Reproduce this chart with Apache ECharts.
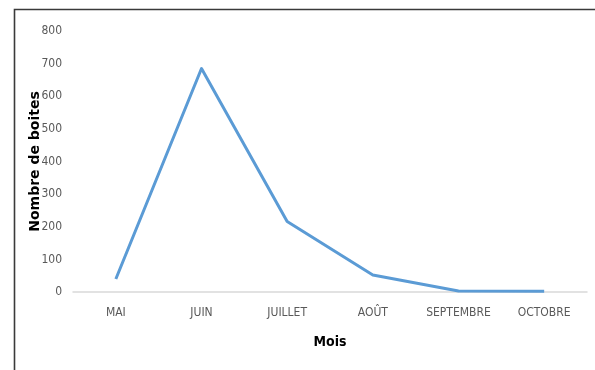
<!DOCTYPE html>
<html>
<head>
<meta charset="utf-8">
<script src="https://cdn.jsdelivr.net/npm/echarts@6/dist/echarts.min.js"></script>
<style>
  html, body { margin: 0; padding: 0; background: #fff; }
  #chart { width: 595px; height: 370px; }
</style>
</head>
<body>
<div id="chart"></div>
<script>
// Monthly box counts
const months = ['MAI', 'JUIN', 'JUILLET', 'AOÛT', 'SEPTEMBRE', 'OCTOBRE'];
const boxes = [40, 685, 216, 52, 3, 2];
const yTicks = { min: 0, max: 800, interval: 100 };

const narrow = "'DejaVu Sans Condensed', 'Liberation Sans Narrow', 'DejaVu Sans', sans-serif";

const chart = echarts.init(document.getElementById('chart'), null, { renderer: 'canvas' });
chart.setOption({
  animation: false,
  backgroundColor: '#ffffff',
  grid: { left: 73, right: 8, top: 31, bottom: 78, containLabel: false },
  graphic: [
    {
      type: 'polyline',
      silent: true,
      shape: { points: [[14.5, 372], [14.5, 9.5], [597, 9.5]] },
      style: { stroke: '#3a3a3a', lineWidth: 1.6, fill: null }
    }
  ],
  xAxis: {
    type: 'category',
    data: months,
    boundaryGap: true,
    axisLine: { show: true, lineStyle: { color: '#d9d9d9', width: 1.5 } },
    axisTick: { show: false },
    axisLabel: { color: '#595959', fontFamily: narrow, fontSize: 12, margin: 15 },
    name: 'Mois',
    nameLocation: 'middle',
    nameGap: 43,
    nameMoveOverlap: false,
    nameTextStyle: { color: '#000', fontFamily: narrow, fontWeight: 'bold', fontSize: 14 }
  },
  yAxis: {
    type: 'value',
    min: yTicks.min,
    max: yTicks.max,
    interval: yTicks.interval,
    axisLine: { show: false },
    axisTick: { show: false },
    splitLine: { show: false },
    axisLabel: { color: '#595959', fontFamily: narrow, fontSize: 12, margin: 11 },
    name: 'Nombre de boites',
    nameLocation: 'middle',
    nameGap: 31,
    nameRotate: 90,
    nameMoveOverlap: false,
    nameTextStyle: { color: '#000', fontFamily: "'DejaVu Sans', sans-serif", fontWeight: 'bold', fontSize: 14 }
  },
  series: [
    {
      type: 'line',
      data: boxes,
      symbol: 'none',
      lineStyle: { color: '#5B9BD5', width: 3, join: 'round' },
      itemStyle: { color: '#5B9BD5' }
    }
  ]
});
</script>
</body>
</html>
